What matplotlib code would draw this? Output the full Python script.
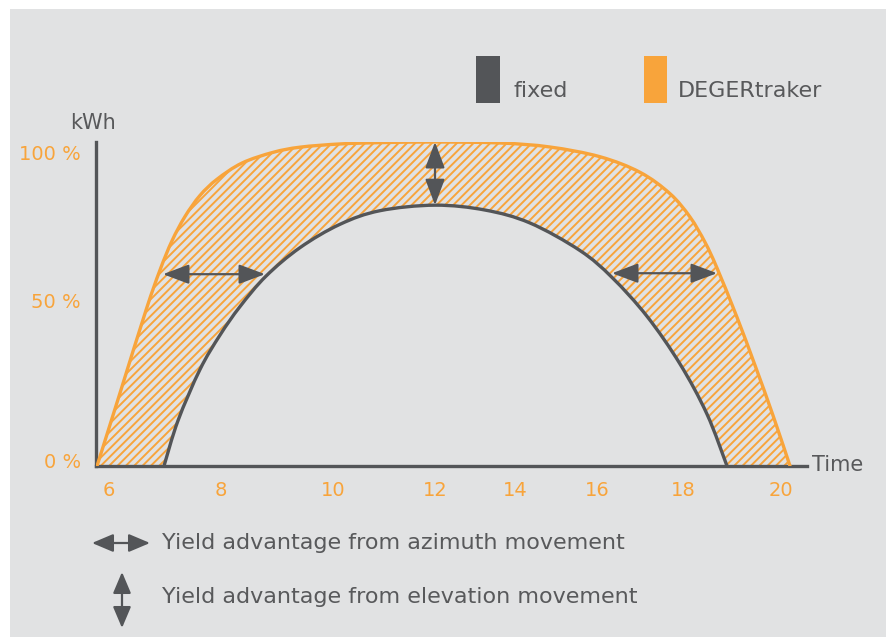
import numpy as np
import matplotlib
matplotlib.use("Agg")
import matplotlib.pyplot as plt
from matplotlib.patches import Rectangle, PathPatch
from matplotlib.path import Path
from matplotlib.transforms import ScaledTranslation

# ---------------- data ----------------
hour_ticks = [6, 8, 10, 12, 14, 16, 18, 20]
hour_tick_labels = ["6", "8", "10", "12", "14", "16", "18", "20"]
pct_ticks = [0, 50, 100]
pct_tick_labels = ["0 %", "50 %", "100 %"]

# DEGERtraker (tracker) yield curve: hours, percent
tracker_h = [5.786, 6.196, 6.661, 6.911, 7.125, 7.357, 7.625, 7.929, 8.375,
             8.929, 9.411, 10.137, 10.922, 12.0, 13.625, 14.854, 16.07, 17.0,
             17.698, 18.143, 18.449, 18.694, 19.102, 19.469, 19.837, 20.184]
tracker_pct = [0, 22.5, 48.1, 60.5, 69.5, 77.0, 83.5, 88.5, 93.5,
               96.8, 98.4, 99.4, 99.8, 100, 99.7, 98.45, 95.45, 90.65,
               84.05, 76.85, 69.05, 61.1, 45.9, 31.1, 15.6, 0]

# fixed installation yield curve: hours, percent
fixed_h = [6.982, 7.232, 7.625, 7.982, 8.339, 8.804, 9.411, 10.137, 10.922,
           12.0, 13.25, 14.366, 15.585, 16.349, 17.163, 17.93, 18.49, 18.898]
fixed_pct = [0, 14.0, 29.8, 40.4, 49.2, 58.6, 67.4, 74.6, 78.8,
             80.5, 79.0, 75.0, 66.5, 58.2, 46.2, 31.5, 16.0, 0]

# yield-advantage arrows: (start hour, end hour, percent) and (hour, from %, to %)
azimuth_arrows = [(6.964, 8.786, 59.2), (16.349, 18.694, 59.5)]
elevation_arrow = (12.0, 80.5, 100.0)

series_names = ["fixed", "DEGERtraker"]

# ---------------- styling ----------------
W, H = 886, 637
BG = "#e1e2e3"
ORANGE = "#f8a43b"
DARK = "#535558"
TEXT = "#58595b"

plt.rcParams["font.family"] = ["DejaVu Sans"]
plt.rcParams["hatch.linewidth"] = 1.4
plt.rcParams["hatch.color"] = ORANGE

fig = plt.figure(figsize=(W / 100, H / 100), dpi=100, facecolor="white")
fig.patches.append(Rectangle((10 / W, 0), 1 - 10 / W, 1 - 9 / H,
                             transform=fig.transFigure, facecolor=BG,
                             edgecolor="none", zorder=-10))


def px(x, y):
    """figure fraction from top-left pixel coordinates"""
    return x / W, 1 - y / H


ax = fig.add_axes([96 / W, 1 - 466 / H, (807 - 96) / W, (466 - 142) / H])
ax.set_facecolor("none")

# schematic (non-linear) time axis: label anchors -> drawing positions
anchor_h = np.array([5.0] + hour_ticks + [21.0], dtype=float)
anchor_p = np.array([53, 109, 221, 333, 435, 515, 597, 683, 781, 830], dtype=float)


def fwd(v):
    return np.interp(v, anchor_h, anchor_p)


def inv(v):
    return np.interp(v, anchor_p, anchor_h)


ax.set_xscale("function", functions=(fwd, inv))
ax.set_xlim(inv(96), inv(807))
ax.set_ylim(0, 100)


def smooth_path_parts(hs, ps):
    """Catmull-Rom -> cubic Bezier through the read points (drawing only)."""
    P = np.column_stack([fwd(np.asarray(hs, float)), np.asarray(ps, float)])
    ext = np.vstack([P[0], P, P[-1]])
    verts = [P[0]]
    codes = [Path.MOVETO]
    for i in range(len(P) - 1):
        p0, p1, p2, p3 = ext[i], ext[i + 1], ext[i + 2], ext[i + 3]
        c1 = p1 + (p2 - p0) / 6.0
        c2 = p2 - (p3 - p1) / 6.0
        verts += [c1, c2, p2]
        codes += [Path.CURVE4] * 3
    verts = np.array(verts)
    verts[:, 0] = inv(verts[:, 0])
    return verts, codes


tv, tc = smooth_path_parts(tracker_h, tracker_pct)
fv, fc = smooth_path_parts(fixed_h[::-1], fixed_pct[::-1])

# hatched advantage area between the two curves
area_verts = np.vstack([tv, fv, tv[:1]])
area_codes = tc + [Path.LINETO] + fc[1:] + [Path.CLOSEPOLY]
ax.add_patch(PathPatch(Path(area_verts, area_codes), facecolor="none",
                       edgecolor=ORANGE, hatch="////", linewidth=0, zorder=1))

ax.add_patch(PathPatch(Path(tv, tc), facecolor="none", edgecolor=ORANGE,
                       lw=2.4, zorder=3, joinstyle="round", capstyle="round"))
ax.add_patch(PathPatch(Path(fv, fc), facecolor="none", edgecolor=DARK,
                       lw=2.4, zorder=3, joinstyle="round", capstyle="round"))
ax.plot(fixed_h, fixed_pct, alpha=0, label=series_names[0])
ax.plot(tracker_h, tracker_pct, alpha=0, label=series_names[1])

arrow_style = "<|-|>,head_length=1.6,head_width=0.6"
for h0, h1, p in azimuth_arrows:
    ax.annotate("", xy=(h1, p), xytext=(h0, p),
                arrowprops=dict(arrowstyle=arrow_style, color=DARK, lw=1.6,
                                shrinkA=0, shrinkB=0, mutation_scale=10),
                zorder=4)
eh, ep0, ep1 = elevation_arrow
ax.annotate("", xy=(eh, ep1), xytext=(eh, ep0),
            arrowprops=dict(arrowstyle=arrow_style, color=DARK, lw=1.6,
                            shrinkA=0, shrinkB=0, mutation_scale=10),
            zorder=4)

for s in ["top", "right"]:
    ax.spines[s].set_visible(False)
for s in ["left", "bottom"]:
    ax.spines[s].set_color(DARK)
    ax.spines[s].set_linewidth(2.4)
    ax.spines[s].set_capstyle("projecting")

ax.set_xticks(hour_ticks)
ax.set_xticklabels(hour_tick_labels)
ax.set_yticks(pct_ticks)
ax.set_yticklabels(pct_tick_labels)
ax.xaxis.set_minor_locator(matplotlib.ticker.NullLocator())
ax.tick_params(axis="both", length=0, colors=ORANGE, labelsize=14)
ax.tick_params(axis="x", pad=11)
ax.tick_params(axis="y", pad=11)

for tick, dy in zip(ax.yaxis.get_major_ticks(), [6, 4, -10]):
    lab = tick.label1
    lab.set_transform(lab.get_transform() +
                      ScaledTranslation(0, dy / 100, fig.dpi_scale_trans))

fig.text(*px(93, 123), "kWh", color=TEXT, fontsize=15, ha="center", va="center")
fig.text(*px(812, 465), "Time", color=TEXT, fontsize=15, ha="left", va="center")

fig.patches.append(Rectangle(px(476, 103), 24 / W, 47 / H,
                             transform=fig.transFigure, facecolor=DARK,
                             edgecolor="none"))
fig.patches.append(Rectangle(px(644, 103), 23 / W, 47 / H,
                             transform=fig.transFigure, facecolor=ORANGE,
                             edgecolor="none"))
fig.text(*px(513, 91), series_names[0], color=TEXT, fontsize=16,
         ha="left", va="center")
fig.text(*px(678, 91), series_names[1], color=TEXT, fontsize=16,
         ha="left", va="center")

leg_style = "<|-|>,head_length=1.3,head_width=0.55"
ax.annotate("", xy=(150, H - 543), xytext=(92, H - 543),
            xycoords="figure pixels", textcoords="figure pixels",
            arrowprops=dict(arrowstyle=leg_style, color=DARK, lw=1.6,
                            shrinkA=0, shrinkB=0, mutation_scale=10),
            annotation_clip=False)
ax.annotate("", xy=(122, H - 572), xytext=(122, H - 628),
            xycoords="figure pixels", textcoords="figure pixels",
            arrowprops=dict(arrowstyle=leg_style, color=DARK, lw=1.6,
                            shrinkA=0, shrinkB=0, mutation_scale=10),
            annotation_clip=False)
fig.text(*px(162, 543), "Yield advantage from azimuth movement", color=TEXT,
         fontsize=16, ha="left", va="center")
fig.text(*px(162, 597), "Yield advantage from elevation movement", color=TEXT,
         fontsize=16, ha="left", va="center")

fig.savefig("out.png", dpi=100, facecolor=fig.get_facecolor())
